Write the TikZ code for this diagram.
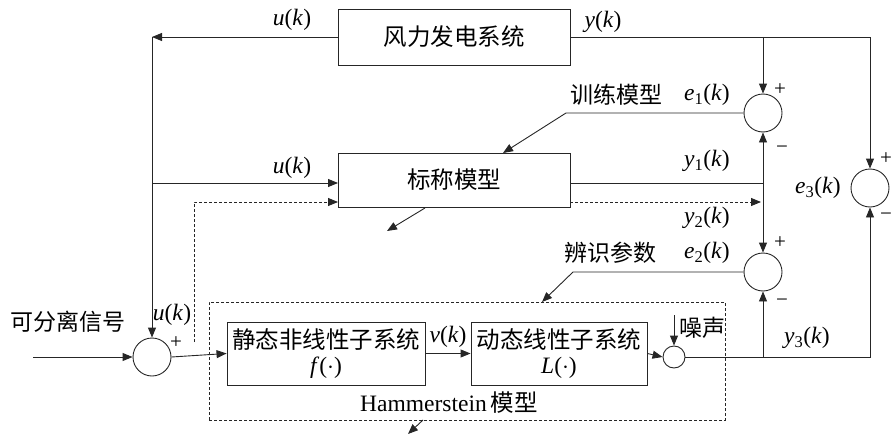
\documentclass[tikz,border=0pt]{standalone}
\usepackage{fontspec}
\setmainfont{Liberation Serif}
\newfontfamily\cjk{Noto Sans CJK SC}
\usetikzlibrary{arrows.meta,calc}
\newcommand\vi[1]{\textit{#1}}
\begin{document}
\begin{tikzpicture}[x=1pt,y=-1pt,
  ln/.style={draw=black!85,line width=0.9pt},
  arr/.style={ln,-{Triangle[length=10pt,width=8pt]}},
  dsh/.style={dash pattern=on 3pt off 2pt},
  blk/.style={ln,rectangle,inner sep=0pt,font=\fontsize{23.5}{29}\selectfont\cjk},
  sumc/.style={ln,circle,inner sep=0pt,minimum size=38pt},
  lbl/.style={inner sep=0pt,font=\fontsize{23.5}{28}\selectfont},
  clbl/.style={inner sep=0pt,font=\fontsize{23}{28}\selectfont\cjk},
  sgn/.style={inner sep=0pt,font=\fontsize{21}{24}\selectfont}]
\useasboundingbox (0,0) rectangle (891,436);
% blocks
\node[blk,minimum width=232pt,minimum height=56pt] (wind) at (454,37) {风力发电系统};
\node[blk,minimum width=232pt,minimum height=54pt] (nom) at (454,180) {标称模型};
\node[ln,dsh,rectangle,minimum width=516pt,minimum height=118pt] (ham) at (467,361) {};
\node[blk,minimum width=198pt,minimum height=63pt,align=center] (stat) at (326,353.5)
  {静态非线性子系统\\[-4pt]{\fontsize{23.5}{28}\selectfont\rmfamily\vi{f}($\cdot$)}};
\node[blk,minimum width=176pt,minimum height=63pt,align=center] (dyn) at (559,353.5)
  {动态线性子系统\\[-4pt]{\fontsize{23.5}{28}\selectfont\rmfamily\vi{L}($\cdot$)}};
% summing junctions
\node[sumc] (s0) at (152,357) {};
\node[ln,circle,inner sep=0pt,minimum size=22pt] (nz) at (674,357) {};
\node[sumc] (s1) at (763,113) {};
\node[sumc] (s2) at (763,272) {};
\node[sumc] (s3) at (870,188) {};
% coordinates
\coordinate (tl) at (152,37);
\coordinate (ml) at (152,183);
\coordinate (nomu) at (338,183);
\coordinate (dl) at (194,342);
\coordinate (dm) at (194,202);
\coordinate (nomd) at (338,202);
\coordinate (in) at (33,357);
\coordinate (nzt) at (674,315);
\coordinate (j3) at (763,357);
\coordinate (c3) at (870,357);
\coordinate (jy) at (763,37);
\coordinate (cy) at (870,37);
\coordinate (nomo) at (570,183);
\coordinate (j1) at (763,183);
\coordinate (nomo2) at (570,202);
\coordinate (y2e) at (761,202);
\coordinate (e1k) at (566,113);
\coordinate (e1t) at (503,153);
\coordinate (e1a) at (425,208);
\coordinate (e1b) at (387,231);
\coordinate (e2k) at (573,272);
\coordinate (e2t) at (542,302);
\coordinate (e2a) at (423,420);
\coordinate (e2b) at (408,434);
% connectors
\draw[arr] (wind.west) -- (tl);
\draw[arr] (tl) -- (s0.north);
\draw[arr] (ml) -- (nomu);
\draw[arr,dsh] (dl) -- (dm) -- (nomd);
\draw[arr] (in) -- (s0.west);
\draw[arr] (s0.east) -- (stat.west);
\draw[arr] (stat.east) -- (dyn.west);
\draw[arr] (dyn.east) -- (nz.west);
\draw[arr] (nzt) -- (nz.north);
\draw[ln] (nz.east) -- (j3);
\draw[arr] (j3) -- (c3) -- (s3.south);
\draw[arr] (j3) -- (s2.south);
\draw[ln] (wind.east) -- (jy);
\draw[arr] (jy) -- (cy) -- (s3.north);
\draw[arr] (jy) -- (s1.north);
\draw[ln] (nomo) -- (j1);
\draw[arr] (j1) -- (s1.south);
\draw[arr] (j1) -- (s2.north);
\draw[arr,dsh] (nomo2) -- (y2e);
\draw[arr] (s1.west) -- (e1k) -- (e1t);
\draw[arr] (e1a) -- (e1b);
\draw[arr] (s2.west) -- (e2k) -- (e2t);
\draw[arr] (e2a) -- (e2b);
% labels
\node[lbl] (lu1) at (292,20) {\vi{u}(\vi{k})};
\node[lbl] (lu2) at (292,168) {\vi{u}(\vi{k})};
\node[lbl] (lu3) at (172,315) {\vi{u}(\vi{k})};
\node[lbl] (ly) at (603,22) {\vi{y}(\vi{k})};
\node[clbl] (ltr) at (616,95) {训练模型};
\node[lbl] (le1) at (707,95) {\vi{e}\textsubscript{1}(\vi{k})};
\node[lbl] (ly1) at (707,161) {\vi{y}\textsubscript{1}(\vi{k})};
\node[lbl] (ly2) at (707,218) {\vi{y}\textsubscript{2}(\vi{k})};
\node[lbl] (le3) at (818,188) {\vi{e}\textsubscript{3}(\vi{k})};
\node[clbl] (lid) at (610,253) {辨识参数};
\node[lbl] (le2) at (707,253) {\vi{e}\textsubscript{2}(\vi{k})};
\node[lbl] (ly3) at (807,338) {\vi{y}\textsubscript{3}(\vi{k})};
\node[clbl] (lsig) at (68,322) {可分离信号};
\node[lbl] (lv) at (448,337) {\vi{v}(\vi{k})};
\node[clbl] (lnz) at (702,328) {噪声};
\node[lbl] (lham) at (449,403) {Hammerstein\,{\cjk 模型}};
% signs
\node[sgn] at (176,343) {+};
\node[sgn] at (780,90) {+};
\node[sgn] at (782,150) {\textminus};
\node[sgn] at (780,243) {+};
\node[sgn] at (782,303) {\textminus};
\node[sgn] at (886,159) {+};
\node[sgn] at (886,217) {\textminus};
\end{tikzpicture}
\end{document}
